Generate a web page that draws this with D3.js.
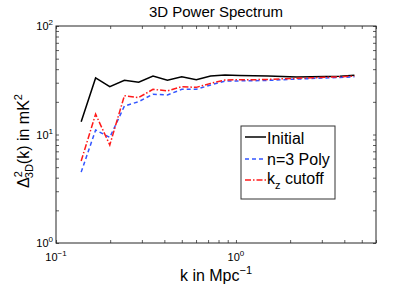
<!DOCTYPE html>
<html>
<head>
<meta charset="utf-8">
<script src="https://cdn.jsdelivr.net/npm/d3@7"></script>
<style>
body { margin: 0; background: #fff; }
text { font-family: "Liberation Sans", Arial, sans-serif; fill: #000; }
</style>
</head>
<body>
<div id="vis"></div>
<script>
// data
const kValues = [0.138, 0.166, 0.199, 0.240, 0.288, 0.346, 0.416, 0.500, 0.602, 0.723,
                 0.869, 1.045, 1.256, 1.509, 1.814, 2.181, 2.621, 3.151, 3.787, 4.552];
const initial = [13.1, 33.2, 27.6, 31.6, 30.3, 34.6, 31.6, 34.1, 32.0, 34.6,
                 35.3, 35.0, 34.8, 34.6, 34.2, 33.9, 34.0, 34.3, 34.5, 35.2];
const poly    = [4.5, 11.0, 9.4, 18.3, 20.1, 23.5, 23.1, 26.1, 26.1, 28.6,
                 31.1, 31.2, 31.3, 31.5, 32.0, 32.4, 32.8, 33.2, 33.6, 34.0];
const cutoff  = [5.7, 15.4, 8.0, 22.8, 21.9, 26.1, 25.2, 27.6, 27.2, 29.6,
                 31.8, 32.0, 32.0, 32.2, 32.6, 33.0, 33.3, 33.7, 34.0, 34.6];
const xMajor = [0.1, 1];
const xMinor = [0.2, 0.3, 0.4, 0.5, 0.6, 0.7, 0.8, 0.9, 2, 3, 4, 5, 6];
const yMajor = [1, 10, 100];
const yMinor = [2, 3, 4, 5, 6, 7, 8, 9, 20, 30, 40, 50, 60, 70, 80, 90];
const seriesNames = ["Initial", "n=3 Poly", "k_z cutoff"];

const width = 415, height = 286;
const pLeft = 56, pRight = 376, pTop = 26, pBottom = 243;
const tickLen = 3;

const svg = d3.select("#vis").append("svg")
    .attr("width", width)
    .attr("height", height);

const x = d3.scaleLog().domain([0.1, 6]).range([pLeft, pRight]);
const y = d3.scaleLog().domain([1, 100]).range([pBottom, pTop]);

// ticks on all four sides, pointing inward
function addAxis(axisFn, scale, vals, tx, ty) {
    svg.append("g")
        .attr("transform", `translate(${tx},${ty})`)
        .call(axisFn(scale).tickValues(vals).tickSize(-tickLen).tickFormat(""))
        .call(g => g.select(".domain").remove())
        .call(g => g.selectAll("line").attr("stroke", "#333").attr("stroke-width", 0.8));
}
const allX = xMajor.concat(xMinor), allY = yMajor.concat(yMinor);
addAxis(d3.axisBottom, x, allX, 0, pBottom);
addAxis(d3.axisTop, x, allX, 0, pTop);
addAxis(d3.axisLeft, y, allY, pLeft, 0);
addAxis(d3.axisRight, y, allY, pRight, 0);

// box
svg.append("rect")
    .attr("x", pLeft).attr("y", pTop)
    .attr("width", pRight - pLeft).attr("height", pBottom - pTop)
    .attr("fill", "none").attr("stroke", "#262626").attr("stroke-width", 1);

// tick labels with exponents
function powLabel(g, v) {
    const e = Math.round(Math.log10(v));
    g.append("tspan").text("10");
    g.append("tspan").attr("dy", -5).attr("font-size", 8).text(e < 0 ? "\u2212" + (-e) : e);
}
xMajor.forEach(v => {
    const t = svg.append("text")
        .attr("x", x(v)).attr("y", pBottom + 18)
        .attr("text-anchor", "middle").attr("font-size", 11);
    powLabel(t, v);
});
yMajor.forEach(v => {
    const t = svg.append("text")
        .attr("x", pLeft - 3).attr("y", y(v) + 4)
        .attr("text-anchor", "end").attr("font-size", 11);
    powLabel(t, v);
});

// title and axis labels
svg.append("text")
    .attr("x", 216).attr("y", 17)
    .attr("text-anchor", "middle").attr("font-size", 15)
    .text("3D Power Spectrum");

const xl = svg.append("text")
    .attr("x", 216).attr("y", 281)
    .attr("text-anchor", "middle").attr("font-size", 16);
xl.append("tspan").text("k in Mpc");
xl.append("tspan").attr("dy", -7).attr("font-size", 11).text("\u22121");

const yl = svg.append("text")
    .attr("transform", "translate(29,141) rotate(-90)")
    .attr("text-anchor", "middle").attr("font-size", 16);
yl.append("tspan").text("\u0394");
yl.append("tspan").attr("dy", -7).attr("font-size", 11).text("2");
yl.append("tspan").attr("dx", -7).attr("dy", 11).attr("font-size", 11).text("3D");
yl.append("tspan").attr("dy", -4).text("(k) in mK");
yl.append("tspan").attr("dy", -7).attr("font-size", 11).text("2");

// lines
const line = d3.line().x(d => x(d[0])).y(d => y(d[1]));
const series = [
    {vals: initial, color: "#000", dash: null, w: 1.5},
    {vals: poly, color: "#3355ff", dash: "4,3", w: 1.5},
    {vals: cutoff, color: "#ff1a1a", dash: "6,2,1.5,2", w: 1.5}
];
series.forEach(s => {
    svg.append("path")
        .datum(kValues.map((k, i) => [k, s.vals[i]]))
        .attr("d", line)
        .attr("fill", "none")
        .attr("stroke", s.color)
        .attr("stroke-width", s.w)
        .attr("stroke-dasharray", s.dash);
});

// legend
const lg = svg.append("g");
lg.append("rect")
    .attr("x", 241).attr("y", 126).attr("width", 94).attr("height", 73)
    .attr("fill", "#fff").attr("stroke", "#333").attr("stroke-width", 1);
const rowY = [137, 159, 180];
series.forEach((s, i) => {
    lg.append("line")
        .attr("x1", 245).attr("x2", 266)
        .attr("y1", rowY[i]).attr("y2", rowY[i])
        .attr("stroke", s.color).attr("stroke-width", s.w)
        .attr("stroke-dasharray", s.dash);
    const t = lg.append("text")
        .attr("x", 267).attr("y", [144, 165, 184][i])
        .attr("font-size", 16);
    if (i === 2) {
        t.append("tspan").text("k");
        t.append("tspan").attr("dy", 5).attr("font-size", 11).text("z");
        t.append("tspan").attr("dy", -5).text(" cutoff");
    } else {
        t.text(seriesNames[i]);
    }
});
</script>
</body>
</html>
